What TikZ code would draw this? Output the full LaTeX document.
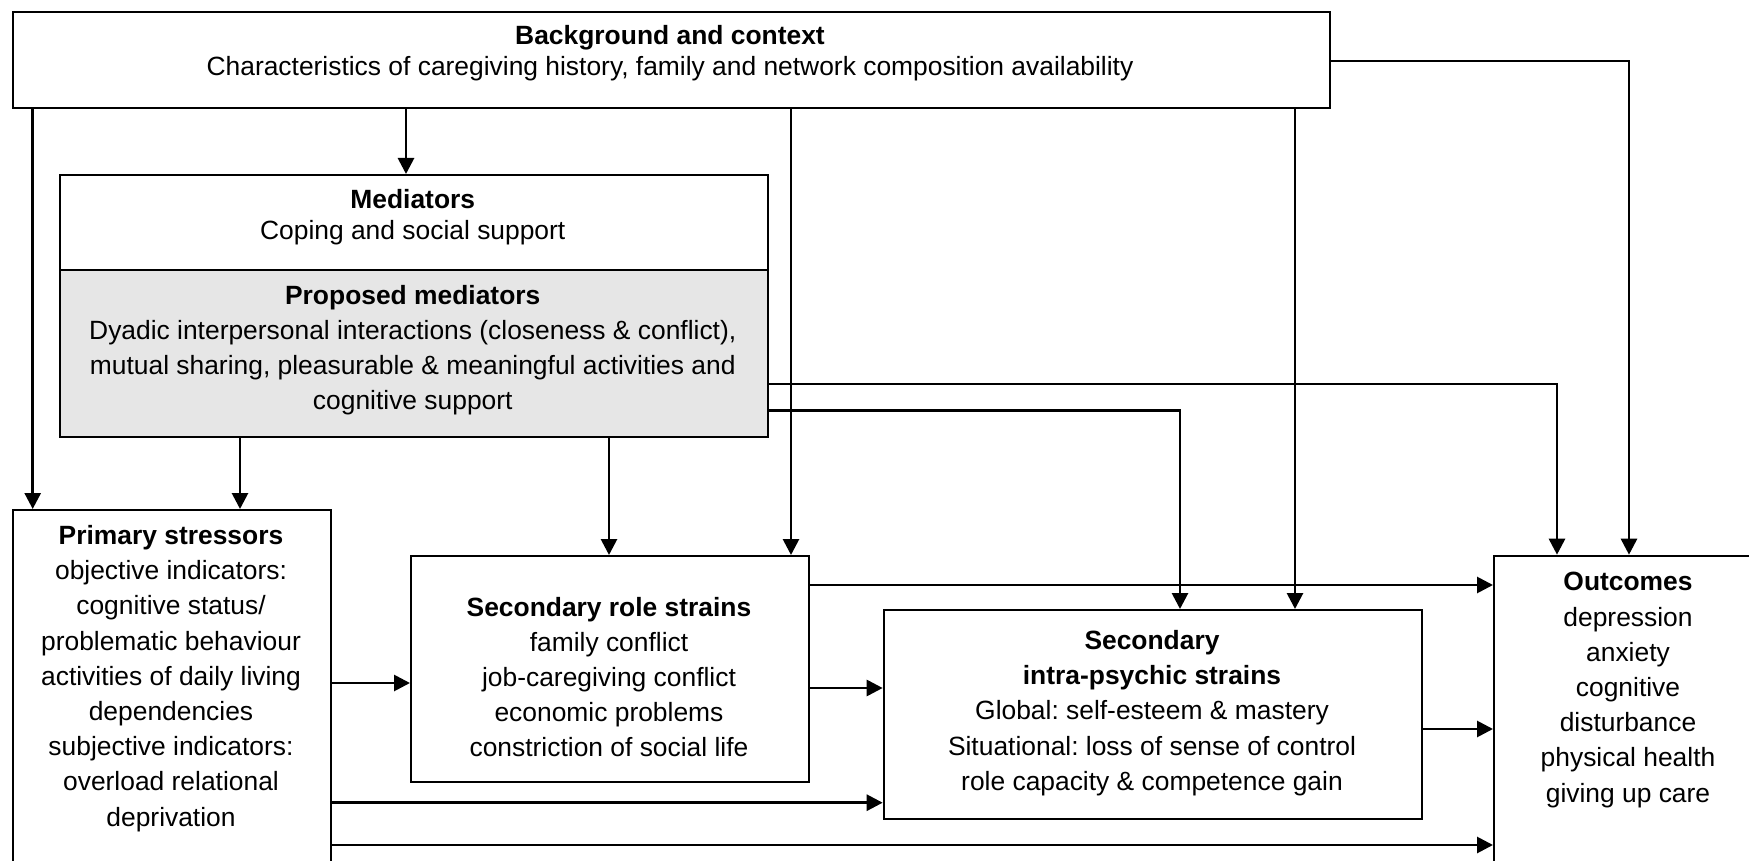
\documentclass[tikz,border=0pt]{standalone}
\usepackage{fontspec}
\setmainfont{Liberation Sans}
\usetikzlibrary{arrows.meta,calc}
\definecolor{pgray}{HTML}{E6E6E6}
\frenchspacing
\begin{document}
\begin{tikzpicture}[x=1pt,y=-1pt,
  boxst/.style={draw=black,line width=2pt,inner sep=0pt,anchor=north west},
  txt/.style={align=center,font=\fontsize{26.4}{35.2}\selectfont,inner sep=0pt},
  arr/.style={line width=2.8pt,-{Triangle[length=16pt,width=16pt]}}]
\useasboundingbox (0,0) rectangle (1749,861);
\clip (0,0) rectangle (1749,861);
\fill[white] (0,0) rectangle (1749,861);

% boxes
\node[boxst, minimum width=1317.5pt, minimum height=96pt] (bg) at (11.5,10.7) {};
\node[boxst, minimum width=708.5pt, minimum height=94.7pt] (med) at (58.5,174) {};
\node[boxst, fill=pgray, minimum width=708.5pt, minimum height=167pt] (pmed) at (58.5,268.7) {};
\node[boxst, minimum width=318.5pt, minimum height=380pt] (ps) at (11.5,509) {};
\node[boxst, minimum width=398pt, minimum height=225.7pt] (rs) at (410,555) {};
\node[boxst, minimum width=538.3pt, minimum height=209pt] (intra) at (882.7,609) {};
\node[boxst, minimum width=300pt, minimum height=330pt] (out) at (1493,554.7) {};

% texts
\node[txt] (bgt) at (670,53) {\textbf{Background and context}\\[-4pt]Characteristics of caregiving history, family and network composition availability};
\node[txt] (medt) at (412.75,217) {\textbf{Mediators}\\[-4pt]Coping and social support};
\node[txt] (pmedt) at (412.75,350) {\textbf{Proposed mediators}\\Dyadic interpersonal interactions (closeness \& conflict),\\mutual sharing, pleasurable \& meaningful activities and\\cognitive support};
\node[txt] (pst) at (171,678.5) {\textbf{Primary stressors}\\objective indicators:\\cognitive status/\\problematic behaviour\\activities of daily living\\dependencies\\subjective indicators:\\overload relational\\deprivation};
\node[txt] (rst) at (609,677) {\textbf{Secondary role strains}\\family conflict\\job-caregiving conflict\\economic problems\\constriction of social life};
\node[txt] (intt) at (1152,713) {\textbf{Secondary}\\\textbf{intra-psychic strains}\\Global: self-esteem \& mastery\\Situational: loss of sense of control\\role capacity \& competence gain};
\node[txt] (outt) at (1628,690) {\textbf{Outcomes}\\depression\\anxiety\\cognitive\\disturbance\\physical health\\giving up care};

% routing coordinates
\coordinate (xA) at (32.7,0);
\coordinate (xB) at (406,0);
\coordinate (xC) at (240,0);
\coordinate (xD) at (609,0);
\coordinate (xE) at (791,0);
\coordinate (xF) at (1295,0);
\coordinate (xG) at (1629,0);
\coordinate (xH) at (1557,0);
\coordinate (xI) at (1180,0);
\coordinate (yG) at (0,61);
\coordinate (yH) at (0,384);
\coordinate (yI) at (0,410.7);
\coordinate (yJ) at (0,683);
\coordinate (yK) at (0,802.7);
\coordinate (yL) at (0,845);
\coordinate (yM) at (0,585);
\coordinate (yN) at (0,688);
\coordinate (yO) at (0,729);

% connectors
\draw[arr] (bg.south -| xA) -- (ps.north -| xA);
\draw[arr] (bg.south -| xB) -- (med.north -| xB);
\draw[arr] (pmed.south -| xC) -- (ps.north -| xC);
\draw[arr] (pmed.south -| xD) -- (rs.north -| xD);
\draw[arr] (bg.south -| xE) -- (rs.north -| xE);
\draw[arr] (bg.south -| xF) -- (intra.north -| xF);
\draw[arr] (bg.east |- yG) -| (out.north -| xG);
\draw[arr] (pmed.east |- yH) -| (out.north -| xH);
\draw[arr] (pmed.east |- yI) -| (intra.north -| xI);
\draw[arr] (ps.east |- yJ) -- (rs.west |- yJ);
\draw[arr] (ps.east |- yK) -- (intra.west |- yK);
\draw[arr] (ps.east |- yL) -- (out.west |- yL);
\draw[arr] (rs.east |- yM) -- (out.west |- yM);
\draw[arr] (rs.east |- yN) -- (intra.west |- yN);
\draw[arr] (intra.east |- yO) -- (out.west |- yO);
\end{tikzpicture}
\end{document}
